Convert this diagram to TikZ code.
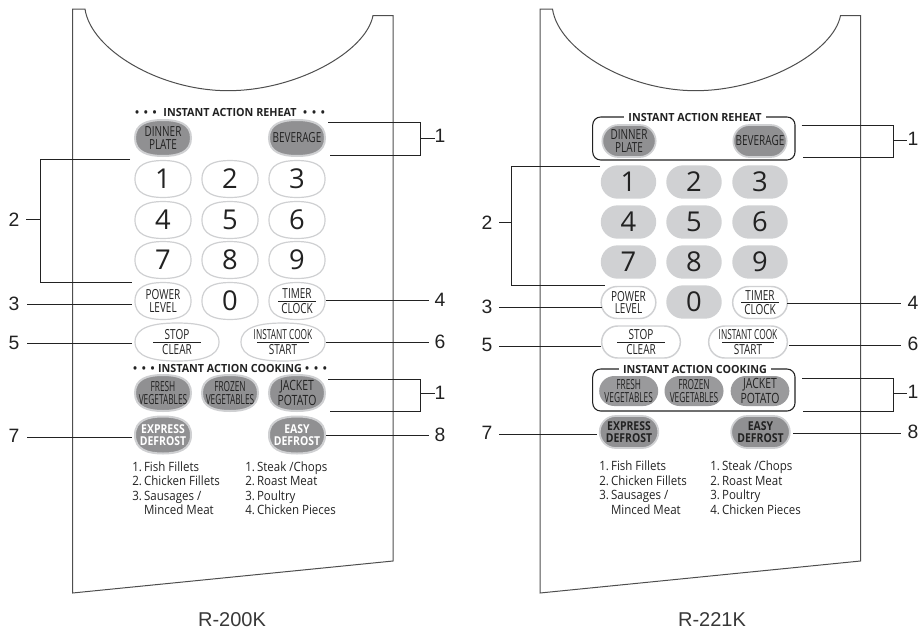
\documentclass[tikz,border=0pt]{standalone}
\usepackage{fontspec}
\setmainfont{Liberation Sans}
\newfontfamily\keyfont[FakeStretch=0.72]{Open Sans}
\newfontfamily\narrowfont[FakeStretch=0.6]{Open Sans}
\newfontfamily\wideKeyfont[FakeStretch=0.74]{Open Sans}
\newfontfamily\boldkey[FakeStretch=0.85]{Open Sans}
\newfontfamily\headerfont[FakeStretch=0.96]{Open Sans}
\newfontfamily\listfont[FakeStretch=0.9]{Open Sans}
\newfontfamily\digitfont{Open Sans}
\usetikzlibrary{shapes.misc}
\definecolor{ink}{HTML}{222222}
\definecolor{keydark}{HTML}{909092}
\definecolor{keymid}{HTML}{9A9A9C}
\definecolor{keylight}{HTML}{D0D1D3}
\definecolor{rimcol}{HTML}{CFD0D2}
\newcommand{\tridot}{\textbullet\hspace{3.6pt}\textbullet\hspace{3.6pt}\textbullet}
\tikzset{
  x=0.75pt,y=-0.75pt,
  panel/.style={draw=ink!80,line width=0.75pt,line join=miter},
  leader/.style={draw=ink,line width=0.65pt},
  callout/.style={font=\fontsize{14.5}{14.5}\selectfont,text=ink,inner sep=0pt},
  modelname/.style={font=\fontsize{15}{15}\selectfont,text=ink!90,inner sep=0pt},
  keytext/.style={font=\keyfont\fontsize{10.4}{9.5}\selectfont,text=ink,align=center,inner sep=0pt},
  narrowtext/.style={font=\narrowfont\fontsize{10.4}{9.5}\selectfont,text=ink,align=center,inner sep=0pt},
  jackettext/.style={font=\wideKeyfont\fontsize{10.6}{9.6}\selectfont,text=ink,align=center,inner sep=0pt},
  bigtext/.style={font=\keyfont\fontsize{10.4}{10.8}\selectfont,text=ink,align=center,inner sep=0pt},
  bignarrow/.style={font=\narrowfont\fontsize{10.4}{10.8}\selectfont,text=ink,align=center,inner sep=0pt},
  whitebold/.style={font=\boldkey\bfseries\fontsize{9.2}{9}\selectfont,text=white,align=center,inner sep=0pt},
  darkbold/.style={font=\boldkey\bfseries\fontsize{9.2}{9}\selectfont,text=ink,align=center,inner sep=0pt},
  digit/.style={font=\digitfont\fontsize{20.5}{20.5}\selectfont,text=ink,inner sep=0pt},
  header/.style={font=\headerfont\bfseries\fontsize{8.4}{9}\selectfont,text=ink,inner sep=0pt},
  listtext/.style={font=\listfont\fontsize{9.6}{10.9}\selectfont,text=ink,align=left,inner sep=0pt,anchor=north west},
  lenswhite/.style={draw=rimcol,line width=0.9pt,fill=white},
  lensdark/.style={draw=rimcol,line width=1.5pt,fill=keydark},
  pillgrey/.style={rounded rectangle,fill=keylight,minimum width=41.6pt,minimum height=25pt,inner sep=0pt},
  pillwhite/.style={rounded rectangle,draw=rimcol,line width=1.1pt,fill=white,inner sep=0pt},
  pilldark/.style={rounded rectangle,draw=rimcol,line width=1.3pt,fill=keydark,inner sep=0pt},
  pillplain/.style={rounded rectangle,fill=keymid,inner sep=0pt},
  grouped/.style={draw=ink,line width=0.8pt,rounded corners=6pt},
  keyrule/.style={draw=ink,line width=0.5pt},
}
% lens-shaped key of the R-200K: name, x, y, width, height, path style, node style, text
\newcommand{\lenskey}[8]{%
  \begin{scope}[shift={(#2,#3)},x=#4*0.75pt,y=-#5*0.75pt]
    \path[#6] (-.5,0) .. controls (-.5,-.40) and (-.27,-.5) .. (0,-.5)
      .. controls (.27,-.5) and (.5,-.40) .. (.5,0)
      .. controls (.5,.40) and (.27,.5) .. (0,.5)
      .. controls (-.27,.5) and (-.5,.40) .. (-.5,0) -- cycle;
  \end{scope}
  \node[#7] (#1) at (#2,#3) {#8};}
\newcommand{\midrule}[2]{\draw[keyrule] (#1.center) ++(-#2,0) -- ++(2*#2,0);}
% straight leader: name, x1, y, x2
\newcommand{\straight}[4]{%
  \coordinate (#1a) at (#2,#3); \coordinate (#1b) at (#4,#3);
  \draw[leader] (#1a) -- (#1b);}
% bracket: name, x top, y top, x bottom, y bottom, x spine, tick y, tick x
\newcommand{\bracketline}[8]{%
  \coordinate (#1a) at (#2,#3); \coordinate (#1b) at (#6,#3);
  \coordinate (#1c) at (#6,#5); \coordinate (#1d) at (#4,#5);
  \coordinate (#1e) at (#6,#7); \coordinate (#1f) at (#8,#7);
  \draw[leader] (#1a) -- (#1b) -- (#1c) -- (#1d);
  \draw[leader] (#1e) -- (#1f);}
\newcommand{\panelshape}[1]{%
  \begin{scope}[xshift=#1*0.75pt]
    \draw[panel] (72.5,593) -- (72.5,9) -- (85,9)
      .. controls (91,50) and (160,90.7) .. (228,90.7)
      .. controls (296,90.7) and (366,52) .. (373,15.5)
      -- (393,15.5) -- (393,561) -- cycle;
  \end{scope}}
\begin{document}
\begin{tikzpicture}
\useasboundingbox (0,0) rectangle (919,632);
\panelshape{0}
\panelshape{467.5}

% ---------- R-200K keys
\node[header] (ahead1) at (230,112) {\tridot\hspace{5pt}INSTANT ACTION REHEAT\hspace{5pt}\tridot};
\lenskey{adinner}{163}{138}{56}{36}{lensdark}{keytext}{DINNER\\PLATE}
\lenskey{abev}{297}{138}{56}{36}{lensdark}{keytext}{BEVERAGE}
\lenskey{a1}{163}{179}{56}{37}{lenswhite}{digit}{1}
\lenskey{a2}{230}{179}{56}{37}{lenswhite}{digit}{2}
\lenskey{a3}{297}{179}{56}{37}{lenswhite}{digit}{3}
\lenskey{a4}{163}{220}{56}{37}{lenswhite}{digit}{4}
\lenskey{a5}{230}{220}{56}{37}{lenswhite}{digit}{5}
\lenskey{a6}{297}{220}{56}{37}{lenswhite}{digit}{6}
\lenskey{a7}{163}{260}{56}{37}{lenswhite}{digit}{7}
\lenskey{a8}{230}{260}{56}{37}{lenswhite}{digit}{8}
\lenskey{a9}{297}{260}{56}{37}{lenswhite}{digit}{9}
\lenskey{apower}{163}{301}{56}{37}{lenswhite}{keytext}{POWER\\LEVEL}
\lenskey{a0}{230}{301}{56}{37}{lenswhite}{digit}{0}
\lenskey{atimer}{297}{301}{56}{37}{lenswhite}{bigtext}{TIMER\\CLOCK}
\midrule{atimer}{19}
\lenskey{astop}{177}{342}{84}{38}{lenswhite}{bigtext}{STOP\\CLEAR}
\midrule{astop}{24}
\lenskey{ainst}{283}{342}{84}{38}{lenswhite}{bignarrow}{INSTANT COOK\\{\keyfont START}}
\midrule{ainst}{26}
\node[header] (ahead2) at (230,368) {\tridot\hspace{2.5pt}INSTANT ACTION COOKING\hspace{2.5pt}\tridot};
\lenskey{afresh}{163}{393}{56}{36}{lensdark}{narrowtext}{FRESH\\VEGETABLES}
\lenskey{afrozen}{230}{393}{56}{36}{lensdark}{narrowtext}{FROZEN\\VEGETABLES}
\lenskey{ajacket}{297}{393}{56}{36}{lensdark}{jackettext}{JACKET\\POTATO}
\lenskey{aexp}{163}{435}{56}{37}{lensdark}{whitebold}{EXPRESS\\DEFROST}
\lenskey{aeasy}{297}{435}{56}{37}{lensdark}{whitebold}{EASY\\DEFROST}
\node[listtext] (alist1) at (132,461) {1.\,Fish Fillets\\2.\,Chicken Fillets\\3.\,Sausages /\\\phantom{3.\,}Minced Meat};
\node[listtext] (alist2) at (245,461) {1.\,Steak /Chops\\2.\,Roast Meat\\3.\,Poultry\\4.\,Chicken Pieces};

% ---------- R-200K leaders and labels
\bracketline{al1}{328}{122.5}{330}{155}{420.5}{138}{435}
\node[callout] (an1) at (440,136) {1};
\bracketline{al2}{130}{159.5}{132}{282}{40.5}{219.5}{26}
\node[callout] (an2) at (14,220) {2};
\straight{al3}{27}{304.5}{132}
\node[callout] (an3) at (14,304) {3};
\straight{al4}{326}{300.5}{429}
\node[callout] (an4) at (440,299.5) {4};
\straight{al5}{27}{343}{132}
\node[callout] (an5) at (14,342.5) {5};
\straight{al6}{326}{342}{429}
\node[callout] (an6) at (440,341.5) {6};
\bracketline{al9}{328}{379}{330}{411.5}{420.5}{393.5}{435}
\node[callout] (an9) at (440,393) {1};
\straight{al7}{27}{437}{132}
\node[callout] (an7) at (14,436) {7};
\straight{al8}{326}{435.5}{429}
\node[callout] (an8) at (440,434.5) {8};
\node[modelname] (amodel) at (232,620) {R-200K};

% ---------- R-221K keys
\draw[grouped] (592.7,117) rectangle (795,160);
\node[header,fill=white,inner xsep=3pt,inner ysep=1pt] (bhead1) at (695,117) {INSTANT ACTION REHEAT};
\node[pilldark,minimum width=40pt,minimum height=24pt,keytext] (bdinner) at (629,141) {DINNER\\PLATE};
\node[pilldark,minimum width=40pt,minimum height=24pt,keytext] (bbev) at (760,141) {BEVERAGE};
\node[pillgrey,digit] (b1) at (628.5,182) {1};
\node[pillgrey,digit] (b2) at (694,182) {2};
\node[pillgrey,digit] (b3) at (760,182) {3};
\node[pillgrey,digit] (b4) at (628.5,222) {4};
\node[pillgrey,digit] (b5) at (694,222) {5};
\node[pillgrey,digit] (b6) at (760,222) {6};
\node[pillgrey,digit] (b7) at (628.5,262) {7};
\node[pillgrey,digit] (b8) at (694,262) {8};
\node[pillgrey,digit] (b9) at (760,262) {9};
\node[pillwhite,minimum width=41pt,minimum height=24pt,keytext] (bpower) at (628.5,302.5) {POWER\\LEVEL};
\node[pillgrey,digit] (b0) at (694,302) {0};
\node[pillwhite,minimum width=41pt,minimum height=24pt,bigtext] (btimer) at (760,302.5) {TIMER\\CLOCK};
\midrule{btimer}{19}
\node[pillwhite,minimum width=59pt,minimum height=24pt,bigtext] (bstop) at (641,342) {STOP\\CLEAR};
\midrule{bstop}{24}
\node[pillwhite,minimum width=59pt,minimum height=24pt,bignarrow] (binst) at (748,342) {INSTANT COOK\\{\keyfont START}};
\midrule{binst}{26}
\draw[grouped] (592.7,369) rectangle (795,411);
\node[header,fill=white,inner xsep=3pt,inner ysep=1pt] (bhead2) at (695,369) {INSTANT ACTION COOKING};
\node[pillplain,minimum width=44pt,minimum height=22.5pt,narrowtext] (bfresh) at (628.7,391) {FRESH\\VEGETABLES};
\node[pillplain,minimum width=44pt,minimum height=22.5pt,narrowtext] (bfrozen) at (694,391) {FROZEN\\VEGETABLES};
\node[pillplain,minimum width=44pt,minimum height=22.5pt,jackettext] (bjacket) at (760,391) {JACKET\\POTATO};
\node[pilldark,minimum width=44pt,minimum height=24pt,darkbold] (bexp) at (629,432) {EXPRESS\\DEFROST};
\node[pilldark,minimum width=44pt,minimum height=24pt,darkbold] (beasy) at (760.5,432) {EASY\\DEFROST};
\node[listtext] (blist1) at (599,460.5) {1.\,Fish Fillets\\2.\,Chicken Fillets\\3.\,Sausages /\\\phantom{3.\,}Minced Meat};
\node[listtext] (blist2) at (710,460.5) {1.\,Steak /Chops\\2.\,Roast Meat\\3.\,Poultry\\4.\,Chicken Pieces};

% ---------- R-221K leaders and labels
\bracketline{bl1}{801.7}{125}{803}{157.7}{893}{140}{907}
\node[callout] (bn1) at (913,139) {1};
\bracketline{bl2}{600}{166.7}{605}{285}{511.7}{222.5}{499}
\node[callout] (bn2) at (487,223) {2};
\straight{bl3}{499}{307}{602}
\node[callout] (bn3) at (487,306.5) {3};
\straight{bl4}{787}{303.5}{901}
\node[callout] (bn4) at (913,302.5) {4};
\straight{bl5}{499}{346}{601}
\node[callout] (bn5) at (487,345) {5};
\straight{bl6}{789}{345}{901}
\node[callout] (bn6) at (913,343.5) {6};
\bracketline{bl9}{802}{378}{803}{411}{893}{393.5}{907}
\node[callout] (bn9) at (913,392) {1};
\straight{bl7}{499}{434}{597}
\node[callout] (bn7) at (487,432.5) {7};
\straight{bl8}{793}{433}{901}
\node[callout] (bn8) at (913,431.5) {8};
\node[modelname] (bmodel) at (712,620) {R-221K};
\end{tikzpicture}
\end{document}
